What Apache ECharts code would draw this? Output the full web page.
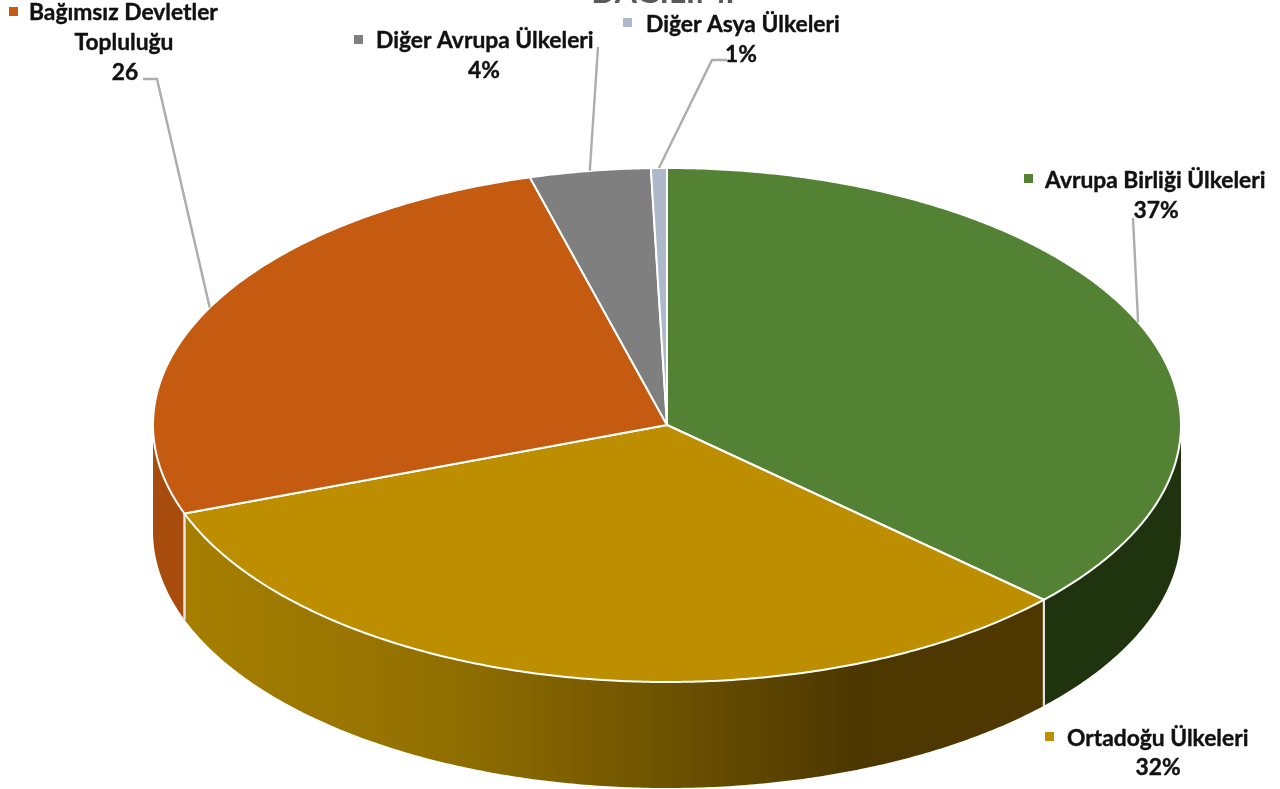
<!DOCTYPE html>
<html lang="tr" style="height: 100%">
<head>
  <meta charset="utf-8">
</head>
<body style="height: 100%; margin: 0; background: #fff">
  <div id="container" style="height: 100%"></div>

  <script type="text/javascript" src="https://fastly.jsdelivr.net/npm/echarts@6/dist/echarts.min.js"></script>
  <script type="text/javascript">
    // data
    var categories = ['Avrupa Birliği Ülkeleri', 'Ortadoğu Ülkeleri', 'Bağımsız Devletler\nTopluluğu', 'Diğer Avrupa Ülkeleri', 'Diğer Asya Ülkeleri'];
    var shares = [36.9, 32.5, 26.3, 3.8, 0.5];
    var shownValues = ['37%', '32%', '26', '4%', '1%'];

    var topColors = ['#548235', '#bc8e00', '#c55a11', '#7f7f7f', '#adb9ca'];
    var markerColors = ['#548235', '#bc8e00', '#c55a11', '#7f7f7f', '#adb9ca'];

    // pie geometry
    var cx = 667, cy = 425, rx = 514, ry = 257, depth = 106;
    var labelFont = 'bold 22.8px Lato, "Open Sans", sans-serif';

    // label boxes: marker corner, text lines as [x, y, align], leader elbow points
    var labelLayout = [
      { marker: [1024, 174], lines: [[1045, 181, 'left']], value: [1156, 211], leader: [[1133, 218]] },
      { marker: [1045, 732], lines: [[1067, 739, 'left']], value: [1158, 768], leader: null },
      { marker: [9, 7], lines: [[29, 13, 'left'], [124, 43, 'center']], value: [125, 73], leader: [[143, 79], [157, 79]] },
      { marker: [354, 35], lines: [[376, 41, 'left']], value: [484, 71], leader: [[598, 47]] },
      { marker: [623, 18], lines: [[646, 25, 'left']], value: [741, 55], leader: [[727, 60], [712, 60]] }
    ];

    function pointAt(deg, dy) {
      var a = deg * Math.PI / 180;
      return [cx + rx * Math.sin(a), cy - ry * Math.cos(a) + (dy || 0)];
    }

    function arc(from, to, dy) {
      var pts = [];
      var n = Math.max(2, Math.ceil(Math.abs(to - from) * 2));
      for (var i = 0; i <= n; i++) {
        pts.push(pointAt(from + (to - from) * i / n, dy));
      }
      return pts;
    }

    function sideFill(i) {
      if (i === 0) return '#20330f';
      if (i === 2) return '#a84c0d';
      return new echarts.graphic.LinearGradient(185, 0, 1043, 0, [
        { offset: 0, color: '#a67f00' },
        { offset: 0.3, color: '#927000' },
        { offset: 0.55, color: '#6f5400' },
        { offset: 0.78, color: '#4d3700' },
        { offset: 1, color: '#4f3800' }
      ], true);
    }

    var total = shares.reduce(function (a, b) { return a + b; }, 0);

    function renderSlice(params, api) {
      var i = params.dataIndex;
      var start = 0;
      for (var k = 0; k < i; k++) start += shares[k];
      var from = start / total * 360;
      var to = (start + api.value(0)) / total * 360;
      var mid = (from + to) / 2;
      var children = [];

      // front wall, only between 90 and 270 degrees
      var a = Math.max(from, 90), b = Math.min(to, 270);
      if (b > a) {
        children.push({
          type: 'polygon',
          shape: { points: arc(a, b, 0).concat(arc(b, a, depth)) },
          style: { fill: sideFill(i) }
        });
        // light seam where two walls meet
        if (b === to) {
          var p = pointAt(b, 0);
          children.push({
            type: 'line',
            z2: 5,
            shape: { x1: p[0], y1: p[1], x2: p[0], y2: p[1] + depth },
            style: { stroke: '#e4e4e4', lineWidth: 2 }
          });
        }
        if (a === from) {
          var q = pointAt(a, 0);
          children.push({
            type: 'line',
            z2: 5,
            shape: { x1: q[0], y1: q[1], x2: q[0], y2: q[1] + depth },
            style: { stroke: '#e4e4e4', lineWidth: 2 }
          });
        }
      }

      // top face
      children.push({
        type: 'polygon',
        z2: 6,
        shape: { points: [[cx, cy]].concat(arc(from, to, 0)) },
        style: { fill: topColors[i], stroke: '#ffffff', lineWidth: 2, lineJoin: 'round' }
      });

      var lay = labelLayout[i];
      if (lay.leader) {
        children.push({
          type: 'polyline',
          z2: 7,
          shape: { points: lay.leader.concat([pointAt(mid, 0)]) },
          style: { fill: null, stroke: '#adadad', lineWidth: 2.4 }
        });
      }
      children.push({
        type: 'rect',
        shape: { x: lay.marker[0], y: lay.marker[1], width: 9, height: 9 },
        style: { fill: markerColors[i] }
      });
      categories[i].split('\n').forEach(function (txt, n) {
        var p = lay.lines[n];
        children.push({
          type: 'text',
          style: { x: p[0], y: p[1], text: txt, align: p[2], verticalAlign: 'middle', fill: '#111111', stroke: '#111111', lineWidth: 0.4, font: labelFont }
        });
      });
      children.push({
        type: 'text',
        style: { x: lay.value[0], y: lay.value[1], text: shownValues[i], align: 'center', verticalAlign: 'middle', fill: '#111111', stroke: '#111111', lineWidth: 0.4, font: labelFont }
      });
      return { type: 'group', children: children };
    }

    var dom = document.getElementById('container');
    var myChart = echarts.init(dom, null, { renderer: 'canvas' });

    var option = {
      animation: false,
      backgroundColor: '#ffffff',
      // last line of the title is cut by the top of the picture
      title: {
        text: 'DAĞILIMI',
        left: 663,
        top: -23,
        padding: 0,
        textAlign: 'center',
        textStyle: { color: '#595959', fontFamily: 'Lato, sans-serif', fontSize: 32, fontWeight: 'bold', lineHeight: 32 }
      },
      series: [
        {
          type: 'custom',
          coordinateSystem: 'none',
          silent: true,
          renderItem: renderSlice,
          data: shares.map(function (v) { return [v]; })
        }
      ]
    };

    myChart.setOption(option);
    window.addEventListener('resize', myChart.resize);
  </script>
</body>
</html>
